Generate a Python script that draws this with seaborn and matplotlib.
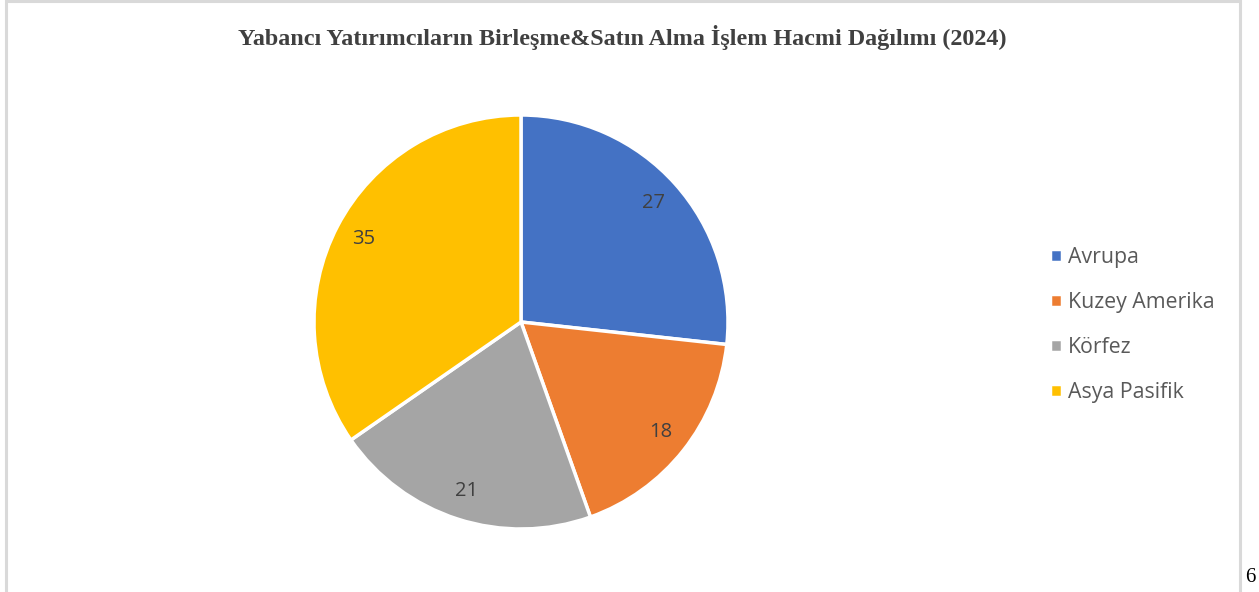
import matplotlib
matplotlib.use("Agg")
import matplotlib.pyplot as plt
import matplotlib.patches as mpatches
import seaborn as sns

categories = ["Avrupa", "Kuzey Amerika", "Körfez", "Asya Pasifik"]
values = [27, 18, 21, 35]
colors = ["#4472C4", "#ED7D31", "#A5A5A5", "#FFC000"]
title = "Yabancı Yatırımcıların Birleşme&Satın Alma İşlem Hacmi Dağılımı (2024)"

sns.set_theme(style="white")
palette = sns.color_palette(colors)

W, H = 1259, 592
fig = plt.figure(figsize=(W / 100, H / 100), dpi=100)
fig.patch.set_facecolor("white")

# chart border
border = mpatches.Rectangle((6 / W, -0.05), (1240 - 6) / W, 1.05 - 0.5 / H,
                            transform=fig.transFigure, fill=False,
                            edgecolor="#D9D9D9", linewidth=2.2, clip_on=False)
fig.patches.append(border)

cx, cy, r = 521, 592 - 322, 207
ax = fig.add_axes([(cx - r) / W, (cy - r) / H, 2 * r / W, 2 * r / H])
wedges, texts = ax.pie(values, colors=palette, startangle=90, counterclock=False,
                       labels=[str(v) for v in values], labeldistance=0.86,
                       wedgeprops=dict(edgecolor="white", linewidth=2.5),
                       textprops=dict(color="#404040", fontsize=14.5, family="Open Sans"))
for t in texts:
    t.set_ha("center")
    t.set_va("center")
ax.set_xlim(-1, 1)
ax.set_ylim(-1, 1)
ax.set_aspect("auto")
ax.axis("off")

fig.text(622 / W, 1 - 37 / H, title, ha="center", va="center",
         family="Liberation Serif", fontweight="bold", fontsize=17.4, color="#404040")

leg = fig.legend(wedges, categories, loc="upper left",
                 bbox_to_anchor=(1031 / W, 1 - 228 / H), frameon=False,
                 handlelength=0.55, handleheight=0.55, handletextpad=0.3,
                 labelspacing=1.13, prop=dict(family="Open Sans", size=15.3))
for t in leg.get_texts():
    t.set_color("#595959")

fig.text(1250 / W, 1 - 577 / H, "6", ha="center", va="center",
         family="Liberation Serif", fontsize=15, color="black")

fig.savefig("out.png", dpi=100, facecolor="white")
